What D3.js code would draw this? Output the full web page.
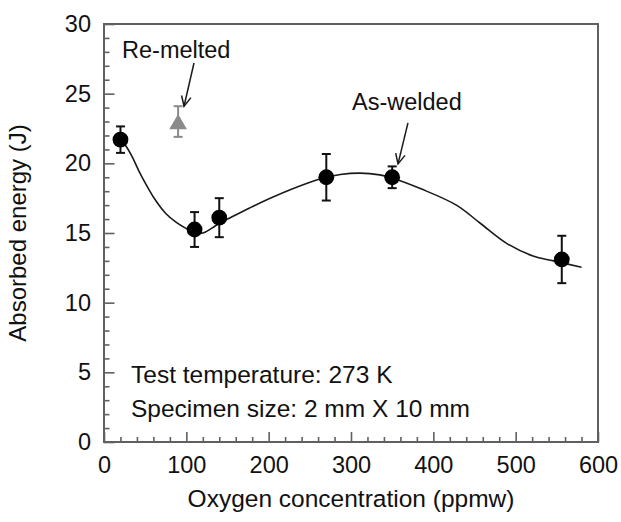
<!DOCTYPE html>
<html>
<head>
<meta charset="utf-8">
<script src="https://cdn.jsdelivr.net/npm/d3@7"></script>
<style>
  html, body { margin: 0; padding: 0; background: #fff; }
  svg { display: block; font-family: "Liberation Sans", Arial, sans-serif; }
</style>
</head>
<body>
<svg id="chart" width="621" height="522"></svg>
<script>
// ---- data ----
const oxygen = [20, 110, 140, 270, 350, 556];
const energy = [21.7, 15.25, 16.1, 19.0, 19.0, 13.1];
const energyErr = [0.95, 1.25, 1.4, 1.67, 0.78, 1.7];

const remeltedX = [90];
const remeltedY = [23.0];
const remeltedErr = [1.1];

// fitted curve
const curveX = [20, 26, 34, 42, 50, 62, 75, 87, 99, 110, 120, 131, 140, 150, 177, 206, 246, 270, 287, 311, 335, 350, 385, 428, 457, 489, 521, 546, 580];
const curveY = [21.7, 21.3, 20.5, 19.5, 18.6, 17.4, 16.4, 15.8, 15.35, 15.05, 15.0, 15.35, 15.7, 16.0, 16.8, 17.6, 18.55, 19.0, 19.2, 19.3, 19.17, 18.95, 18.17, 17.0, 15.7, 14.26, 13.35, 13.0, 12.54];

const xTicks = [0, 100, 200, 300, 400, 500, 600];
const yTicks = [0, 5, 10, 15, 20, 25, 30];

// ---- layout ----
const svg = d3.select("#chart");
const x = d3.scaleLinear().domain([0, 600]).range([104, 598]);
const y = d3.scaleLinear().domain([0, 30]).range([442, 24]);

const frameColor = "#606060";
const textColor = "#111";

// minor ticks
const xMinor = d3.range(0, 601, 20).filter(v => v % 100 !== 0);
const yMinor = d3.range(0, 31, 1).filter(v => v % 5 !== 0);

const gxMinor = svg.append("g").attr("transform", `translate(0,${y(0)})`)
  .call(d3.axisBottom(x).tickValues(xMinor).tickSizeInner(-5).tickSizeOuter(0).tickFormat(""));
const gyMinor = svg.append("g").attr("transform", `translate(${x(0)},0)`)
  .call(d3.axisLeft(y).tickValues(yMinor).tickSizeInner(-5.5).tickSizeOuter(0).tickFormat(""));

const gx = svg.append("g").attr("transform", `translate(0,${y(0)})`)
  .call(d3.axisBottom(x).tickValues(xTicks).tickSizeInner(-10).tickSizeOuter(0).tickPadding(14).tickFormat(d3.format("d")));
const gy = svg.append("g").attr("transform", `translate(${x(0)},0)`)
  .call(d3.axisLeft(y).tickValues(yTicks).tickSizeInner(-10.5).tickSizeOuter(0).tickPadding(13).tickFormat(d3.format("d")));

[gxMinor, gyMinor, gx, gy].forEach(g => {
  g.select(".domain").remove();
  g.selectAll("line").attr("stroke", frameColor).attr("stroke-width", 1.6);
});
[gx, gy].forEach(g => {
  g.selectAll("text").attr("fill", textColor).style("font-size", "23.5px")
    .style("font-family", "'Liberation Sans', Arial, sans-serif");
});

// frame
svg.append("rect")
  .attr("x", x(0)).attr("y", y(30))
  .attr("width", x(600) - x(0)).attr("height", y(0) - y(30))
  .attr("fill", "none").attr("stroke", frameColor).attr("stroke-width", 2);

// axis titles
svg.append("text")
  .attr("x", (x(0) + x(600)) / 2).attr("y", 507)
  .attr("text-anchor", "middle").attr("fill", textColor)
  .style("font-size", "24.5px")
  .text("Oxygen concentration (ppmw)");
svg.append("text")
  .attr("transform", `translate(26,${(y(0) + y(30)) / 2}) rotate(-90)`)
  .attr("text-anchor", "middle").attr("fill", textColor)
  .style("font-size", "24px")
  .text("Absorbed energy (J)");

// curve
const curvePts = curveX.map((v, i) => [v, curveY[i]]);
svg.append("path")
  .datum(curvePts)
  .attr("fill", "none").attr("stroke", "#1a1a1a").attr("stroke-width", 1.6)
  .attr("d", d3.line().x(d => x(d[0])).y(d => y(d[1])).curve(d3.curveCatmullRom.alpha(0.5)));

// error bars helper
function errorBars(xs, ys, es, color) {
  const g = svg.append("g").attr("stroke", color).attr("stroke-width", 2);
  xs.forEach((xv, i) => {
    const cx = x(xv), top = y(ys[i] + es[i]), bot = y(ys[i] - es[i]);
    g.append("line").attr("x1", cx).attr("x2", cx).attr("y1", top).attr("y2", bot);
    g.append("line").attr("x1", cx - 4.5).attr("x2", cx + 4.5).attr("y1", top).attr("y2", top);
    g.append("line").attr("x1", cx - 4.5).attr("x2", cx + 4.5).attr("y1", bot).attr("y2", bot);
  });
}

errorBars(oxygen, energy, energyErr, "#111");
errorBars(remeltedX, remeltedY, remeltedErr, "#8a8a8a");

// points
svg.append("g").selectAll("circle")
  .data(oxygen.map((v, i) => [v, energy[i]]))
  .join("circle")
  .attr("cx", d => x(d[0])).attr("cy", d => y(d[1])).attr("r", 7.9)
  .attr("fill", "#000");

const triSize = 135;
const triH = Math.sqrt(triSize * 4 / Math.sqrt(3)) * Math.sqrt(3) / 2;
svg.append("g").selectAll("path")
  .data(remeltedX.map((v, i) => [v, remeltedY[i]]))
  .join("path")
  .attr("d", d3.symbol(d3.symbolTriangle, triSize))
  .attr("transform", d => `translate(${x(d[0])},${y(d[1]) + triH / 6})`)
  .attr("fill", "#8a8a8a");

// annotations
function arrow(x1, y1, x2, y2) {
  const px1 = x(x1), py1 = y(y1), px2 = x(x2), py2 = y(y2);
  const ang = Math.atan2(py2 - py1, px2 - px1);
  const L = 11, a = 0.45;
  const g = svg.append("g").attr("stroke", "#1a1a1a").attr("stroke-width", 1.5).attr("fill", "none");
  g.append("line").attr("x1", px1).attr("y1", py1).attr("x2", px2).attr("y2", py2);
  g.append("path").attr("d",
    `M${px2 - L * Math.cos(ang - a)},${py2 - L * Math.sin(ang - a)}L${px2},${py2}L${px2 - L * Math.cos(ang + a)},${py2 - L * Math.sin(ang + a)}`);
}

svg.append("text").attr("x", x(21.9)).attr("y", y(27.57))
  .attr("fill", textColor).style("font-size", "23.5px").text("Re-melted");
arrow(109.3, 27.2, 97.2, 24.1);

svg.append("text").attr("x", x(301.2)).attr("y", y(23.83))
  .attr("fill", textColor).style("font-size", "23.5px").text("As-welded");
arrow(369.2, 22.9, 357.1, 19.96);

svg.append("text").attr("x", x(32.8)).attr("y", y(4.24))
  .attr("fill", textColor).style("font-size", "24.5px").text("Test temperature: 273 K");
svg.append("text").attr("x", x(32.8)).attr("y", y(1.8))
  .attr("fill", textColor).style("font-size", "24.5px").text("Specimen size: 2 mm X 10 mm");
</script>
</body>
</html>
